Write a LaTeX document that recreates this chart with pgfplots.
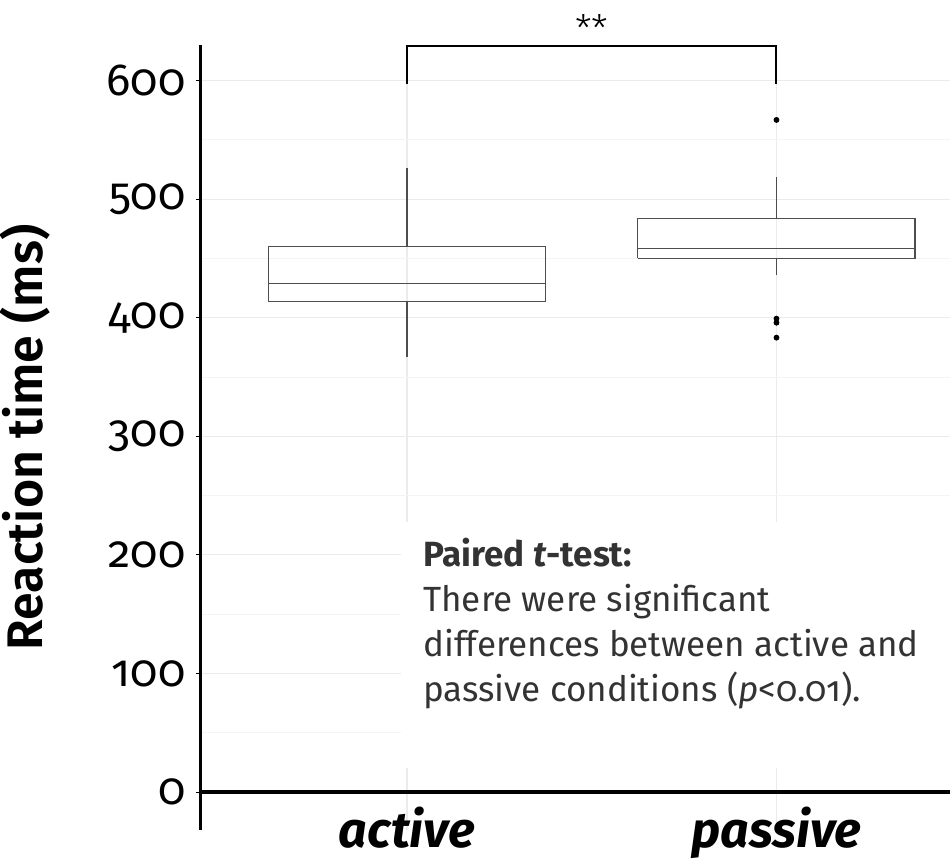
\documentclass[border=0pt]{standalone}
\usepackage{fontspec}
\setmainfont{Fira Sans}[Numbers=OldStyle]
\newfontfamily\lightfont{Fira Sans Light}
\newfontfamily\semifont{Fira Sans SemiBold}
\usepackage{pgfplots}
\pgfplotsset{compat=1.18}
\definecolor{gridmaj}{HTML}{EBEBEB}
\definecolor{gridmin}{HTML}{F4F4F4}
\definecolor{boxc}{HTML}{4D4D4D}
\definecolor{anno}{HTML}{333333}
\tikzset{bx/.style={draw=boxc, line width=0.55pt, solid, mark=none}}
\begin{document}
\begin{tikzpicture}
\begin{axis}[name=ax,
  scale only axis, width=374.5pt, height=392.5pt,
  xmin=0.4425, xmax=2.4696, ymin=-32, ymax=630,
  axis lines=left,
  x axis line style={draw=none},
  y axis line style={-, line width=1.5pt, black},
  xtick={1,2}, xticklabels={active,passive},
  ytick={0,100,200,300,400,500,600}, yticklabels={0,100,200,300,400,500,600},
  minor ytick={50,150,...,550},
  grid=both,
  major grid style={gridmaj, line width=0.55pt},
  minor grid style={gridmin, line width=0.4pt},
  tick align=outside,
  major tick length=2.25pt, minor tick length=0pt,
  xtick style={draw=none},
  ytick style={black, line width=0.5pt},
  yticklabel style={font=\fontsize{22.5}{22.5}\selectfont, xshift=-2pt},
  xticklabel style={font=\fontsize{25}{25}\selectfont\bfseries\itshape, anchor=base, yshift=-6.5pt},
  ylabel={Reaction time (ms)},
  ylabel style={font=\fontsize{25}{25}\selectfont\semifont, at={(axis description cs:-0.1923,0.5)}, anchor=south},
  clip=false,
]
\fill[white] (axis cs:0.984,20.2) rectangle (axis cs:2.4696,227.8);
% active
\addplot[bx] coordinates {(0.625,414.0) (1.375,414.0) (1.375,460.1) (0.625,460.1) (0.625,414.0)};
\addplot[bx] coordinates {(0.625,429.2) (1.375,429.2)};
\addplot[bx] coordinates {(1,460.1) (1,526.4)};
\addplot[bx] coordinates {(1,414.0) (1,366.8)};
% passive
\addplot[bx] coordinates {(1.625,450.3) (2.375,450.3) (2.375,483.4) (1.625,483.4) (1.625,450.3)};
\addplot[bx] coordinates {(1.625,458.7) (2.375,458.7)};
\addplot[bx] coordinates {(2,483.4) (2,518.5)};
\addplot[bx] coordinates {(2,450.3) (2,436.2)};
\addplot[only marks, mark=*, mark size=1.25pt, draw=black, fill=black] coordinates {(2,566.8) (2,399.2) (2,395.8) (2,383.2)};
\draw[line width=2.25pt] (axis cs:0.4425,0) -- (axis cs:2.4696,0);
\draw[line width=1pt] (axis cs:1,597) -- (axis cs:1,629.5) -- (axis cs:2,629.5) -- (axis cs:2,597);
\node[anchor=base, font=\fontsize{19}{19}\selectfont\lightfont] at (axis cs:1.5,632) {**};
\begin{scope}[every node/.style={anchor=base west, inner sep=0pt, text=anno, font=\fontsize{17.5}{17.5}\selectfont}]
\node[font=\fontsize{17.5}{17.5}\selectfont\bfseries] at (axis cs:1.0433,189.9) {Paired \textit{t}-test:};
\node at (axis cs:1.0433,151.9) {There were significant};
\node at (axis cs:1.0433,114.0) {differences between active and};
\node at (axis cs:1.0433,76.1) {passive conditions (\textit{p}<0.01).};
\end{scope}
\end{axis}
\pgfresetboundingbox
\path[use as bounding box] ([xshift=-100.5pt,yshift=-14.5pt]ax.south west) rectangle ([yshift=22.5pt]ax.north east);
\end{tikzpicture}
\end{document}
